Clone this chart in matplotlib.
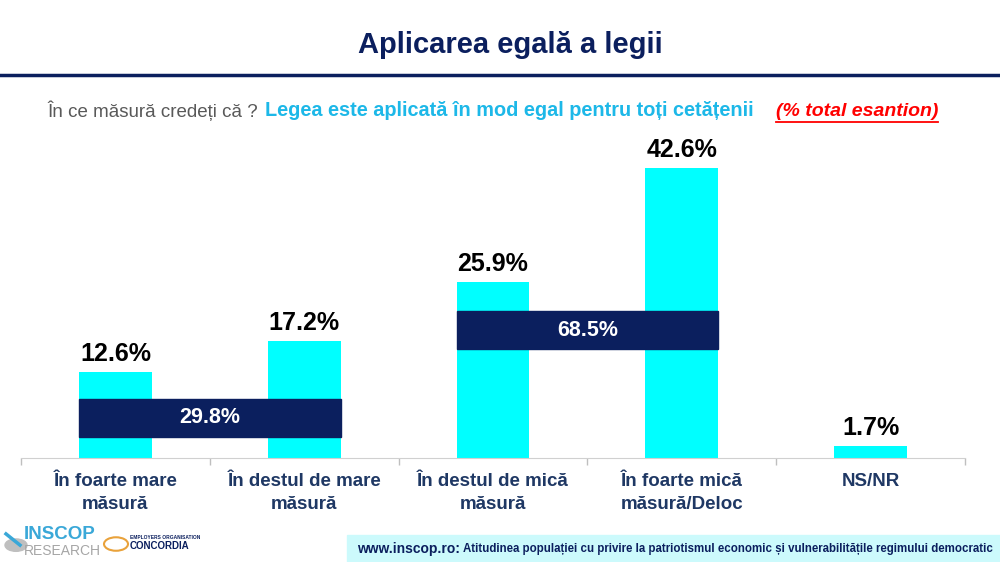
import matplotlib.pyplot as plt
from matplotlib.patches import Rectangle

categories = ['În foarte mare\nmăsură', 'În destul de mare\nmăsură', 'În destul de mică\nmăsură',
              'În foarte mică\nmăsură/Deloc', 'NS/NR']
values = [12.6, 17.2, 25.9, 42.6, 1.7]
totals = [29.8, 68.5]          # grouped sums shown in the navy boxes
total_pairs = [(0, 1), (2, 3)]

CYAN = '#00FFFF'
NAVY = '#0B1F5E'
LABEL = '#1F3864'

plt.rcParams['font.family'] = ['Liberation Sans', 'DejaVu Sans']

fig = plt.figure(figsize=(10, 5.62), dpi=100)
ax = fig.add_axes([0.021, 0.185, 0.944, 0.5445])

x = range(len(values))
w = 0.386
ax.bar(x, values, width=w, color=CYAN, zorder=2)
for i, v in enumerate(values):
    ax.text(i, v + 0.9, f'{v:.1f}%', ha='center', va='bottom', fontsize=18,
            fontweight='bold', color='black')

# navy boxes with the grouped totals
box_y = [(3.1, 8.7), (16.0, 21.6)]
for (a, b), t, (y0, y1) in zip(total_pairs, totals, box_y):
    ax.add_patch(Rectangle((a - w / 2, y0), (b - a) + w, y1 - y0, color=NAVY, zorder=3))
    ax.text((a + b) / 2, (y0 + y1) / 2, f'{t:.1f}%', ha='center', va='center',
            fontsize=15.5, fontweight='bold', color='white', zorder=4)

ax.set_xlim(-0.5, len(values) - 0.5)
ax.set_ylim(0, 45)
ax.set_yticks([])
ax.set_xticks(list(x))
ax.set_xticklabels(categories, fontsize=13.5, fontweight='bold', color=LABEL, linespacing=1.4)
ax.tick_params(axis='x', which='major', length=0, pad=11)
ax.set_xticks([i - 0.5 for i in range(len(values) + 1)], minor=True)
ax.tick_params(axis='x', which='minor', length=5, color='#BFBFBF', width=1)
for s in ['top', 'right', 'left']:
    ax.spines[s].set_visible(False)
ax.spines['bottom'].set_color('#D0D0D0')

# header
fig.text(0.51, 1 - 45 / 562, 'Aplicarea egală a legii', ha='center', va='center', fontsize=21,
         fontweight='bold', color=NAVY)
fig.add_artist(plt.Line2D([0, 1], [1 - 75 / 562, 1 - 75 / 562], color=NAVY, lw=2.5))

sub_y = 1 - 111 / 562
t1 = fig.text(0.047, sub_y, 'În ce măsură credeți că ? ', ha='left', va='center',
              fontsize=13.5, color='#595959')
fig.canvas.draw()
r = fig.canvas.get_renderer()
bb = t1.get_window_extent(r)
t2 = fig.text(bb.x1 / 1000 + 0.002, sub_y, 'Legea este aplicată în mod egal pentru toți cetățenii',
              ha='left', va='center', fontsize=14.3, fontweight='bold', color='#1DB8E8')
bb2 = t2.get_window_extent(r)
t3 = fig.text(bb2.x1 / 1000 + 0.022, sub_y, '(% total esantion)', ha='left', va='center',
              fontsize=14, fontweight='bold', style='italic', color='#FF0000')
bb3 = t3.get_window_extent(r)
fig.add_artist(plt.Line2D([bb3.x0 / 1000, bb3.x1 / 1000], [1 - 122 / 562, 1 - 122 / 562],
                          color='#FF0000', lw=1.3))

# footer
fig.add_artist(Rectangle((0.347, 0), 0.653, 27 / 562, transform=fig.transFigure,
                         color='#CCFAFC', zorder=0))
f1 = fig.text(0.357, 13 / 562, 'www.inscop.ro:', ha='left', va='center', fontsize=10,
              fontweight='bold', color=NAVY)
fb = f1.get_window_extent(r)
fig.text(fb.x1 / 1000 + 0.003, 13 / 562,
         'Atitudinea populației cu privire la patriotismul economic și vulnerabilitățile regimului democratic',
         ha='left', va='center', fontsize=8.3, fontweight='bold', color=NAVY)

# logos (text approximation)
fig.add_artist(plt.Circle((0.016, 0.03), 0.011, transform=fig.transFigure, color='#BFBFBF'))
fig.add_artist(plt.Line2D([0.006, 0.02], [0.05, 0.03], color='#3AA8D8', lw=2.5))
fig.text(0.024, 0.049, 'INSCOP', ha='left', va='center', fontsize=13.5, fontweight='bold', color='#3AA8D8')
fig.text(0.024, 0.019, 'RESEARCH', ha='left', va='center', fontsize=10, color='#A6A6A6')
fig.add_artist(plt.Circle((0.116, 0.032), 0.012, transform=fig.transFigure, fill=False,
                          color='#E9A23B', lw=1.5))
fig.text(0.13, 0.043, 'EMPLOYERS ORGANISATION', ha='left', va='center', fontsize=3.5,
         fontweight='bold', color=NAVY)
fig.text(0.13, 0.028, 'CONCORDIA', ha='left', va='center', fontsize=7, fontweight='bold', color=NAVY)

fig.savefig('out.png', dpi=100)
